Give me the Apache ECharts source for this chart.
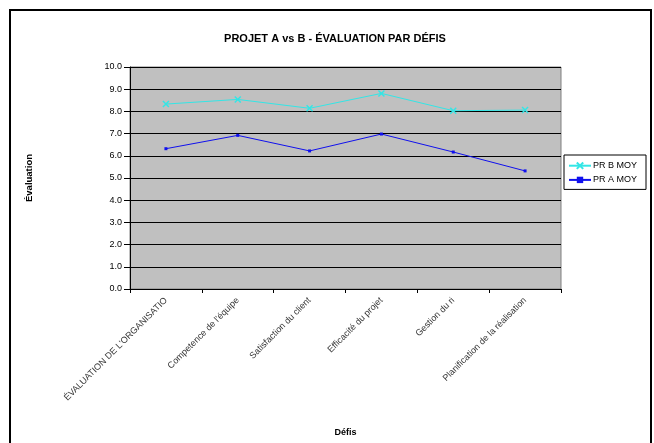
<!DOCTYPE html>
<html lang="fr">
<head>
    <meta charset="UTF-8">
    <title>Projet A vs B</title>
    <script src="https://cdn.jsdelivr.net/npm/echarts@6/dist/echarts.min.js"></script>
    <style>
        html, body { margin: 0; padding: 0; background: #fff; }
    </style>
</head>
<body>
<div id="main" style="width: 654px;height:443px;"></div>
<script type="text/javascript">
    // données du graphique
    var defis = ["ÉVALUATION DE L'ORGANISATIO", "Competence de l'équipe", "Satisfaction du client",
        "Efficacité du projet", "Gestion du ri", "Planification de la réalisation"];
    var prB = [8.33, 8.54, 8.14, 8.81, 8.03, 8.06];
    var prA = [6.32, 6.92, 6.22, 6.98, 6.17, 5.32];
    var yTicks = [0, 1, 2, 3, 4, 5, 6, 7, 8, 9, 10];

    var myChart = echarts.init(document.getElementById("main"));
    var croix = 'path://M0,0L10,10M10,0L0,10';

    var option = {
        animation: false,
        textStyle: { fontFamily: 'Liberation Sans, Arial, sans-serif' },
        graphic: [{
            type: 'rect',
            shape: { x: 10, y: 10, width: 641, height: 460 },
            style: { fill: 'none', stroke: '#000', lineWidth: 2 }
        }],
        title: {
            text: "PROJET A vs B - ÉVALUATION PAR DÉFIS",
            left: 330, top: 28, textAlign: 'center',
            textStyle: { fontSize: 11, fontWeight: 'bold', color: '#000' }
        },
        legend: {
            data: ["PR B MOY", "PR A MOY"],
            orient: 'vertical',
            left: 564, top: 155,
            padding: [5, 9, 5, 4],
            itemGap: 4,
            itemWidth: 22, itemHeight: 8,
            borderColor: '#000', borderWidth: 1,
            textStyle: { fontSize: 9, color: '#000', padding: [0, 0, 0, -3] }
        },
        grid: { left: 130, right: 93, top: 67, height: 222, backgroundColor: '#c0c0c0', show: true, borderColor: '#808080', borderWidth: 1 },
        xAxis: {
            type: 'category',
            data: defis,
            boundaryGap: true,
            name: 'Défis',
            nameLocation: 'middle',
            nameGap: 139,
            nameTextStyle: { fontSize: 9, fontWeight: 'bold', color: '#000' },
            axisLine: { lineStyle: { color: '#000', width: 1 } },
            axisTick: { show: true, length: 4, lineStyle: { color: '#000' } },
            axisLabel: { rotate: 45, fontSize: 9, color: '#333', margin: 10, interval: 0 }
        },
        yAxis: {
            type: 'value',
            min: 0, max: 10, interval: 1,
            name: 'Évaluation',
            nameLocation: 'middle',
            nameGap: 96,
            nameTextStyle: { fontSize: 9.5, fontWeight: 'bold', color: '#000' },
            axisLine: { show: true, lineStyle: { color: '#000' } },
            axisTick: { show: true, length: 6, lineStyle: { color: '#000' } },
            axisLabel: {
                fontSize: 9, color: '#000', margin: 8,
                formatter: function (v) { return yTicks.indexOf(v) >= 0 ? v.toFixed(1) : ''; }
            },
            splitLine: { lineStyle: { color: '#000', width: 1 } }
        },
        series: [{
            name: "PR B MOY",
            type: 'line',
            data: prB,
            symbol: croix,
            symbolSize: 6,
            lineStyle: { color: '#33e6e6', width: 1 },
            itemStyle: { color: 'none', borderColor: '#33e6e6', borderWidth: 1.5 }
        }, {
            name: "PR A MOY",
            type: 'line',
            data: prA,
            symbol: 'rect',
            symbolSize: 3,
            lineStyle: { color: '#1010ee', width: 1 },
            itemStyle: { color: '#1010ee' }
        }]
    };

    myChart.setOption(option);
</script>
</body>
</html>
